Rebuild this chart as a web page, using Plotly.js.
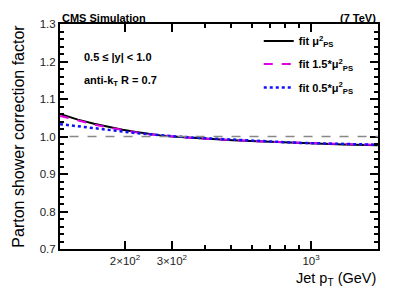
<!DOCTYPE html>
<html><head><meta charset="utf-8">
<script src="https://cdn.plot.ly/plotly-3.0.1.min.js"></script>
<style>body{margin:0;padding:0;background:#fff}#c{width:399px;height:294px}</style>
</head><body><div id="c"></div>
<script>
const pt = [114, 133, 153, 174, 196, 220, 245, 272, 300, 362, 430, 507, 592, 686, 790, 905, 1032, 1172, 1327, 1497, 1684, 1784];
const fitNominal = [1.060, 1.045, 1.034, 1.025, 1.018, 1.012, 1.007, 1.003, 1.000, 0.996, 0.993, 0.990, 0.988, 0.986, 0.984, 0.982, 0.981, 0.980, 0.979, 0.978, 0.977, 0.977];
const fitUp = [1.055, 1.042, 1.032, 1.024, 1.017, 1.011, 1.006, 1.003, 1.000, 0.996, 0.993, 0.990, 0.988, 0.986, 0.985, 0.983, 0.982, 0.981, 0.980, 0.979, 0.978, 0.978];
const fitDown = [1.033, 1.027, 1.022, 1.017, 1.013, 1.009, 1.006, 1.003, 1.001, 0.997, 0.994, 0.991, 0.989, 0.987, 0.985, 0.983, 0.982, 0.981, 0.980, 0.979, 0.978, 0.978];
const names = ["fit μ<sup>2</sup><sub>PS</sub>", "fit 1.5*μ<sup>2</sup><sub>PS</sub>", "fit 0.5*μ<sup>2</sup><sub>PS</sub>"];
const xTickVals = [200, 300, 1000];
const xTickText = ["2×10<sup>2</sup>", "3×10<sup>2</sup>", "10<sup>3</sup>"];
const xMinorVals = [400, 500, 600, 700, 800, 900];
const xRange = [114, 1784];
const yRange = [0.7, 1.3];

const F = "Liberation Sans, Arial, sans-serif";
const traces = [
  {x: pt, y: fitNominal, name: names[0], legend: "legend", mode: "lines", line: {color: "#000000", width: 2}},
  {x: pt, y: fitUp, name: names[1], legend: "legend2", mode: "lines", line: {color: "#e000e0", width: 2, dash: "dash"}},
  {x: pt, y: fitDown, name: names[2], legend: "legend3", mode: "lines", line: {color: "#1010ff", width: 2.5, dash: "dot"}}
];
const axBase = {showline: true, linecolor: "#000", linewidth: 2, ticks: "inside", tickcolor: "#000",
  mirror: "allticks", showgrid: false, zeroline: false, tickfont: {family: F, size: 11.5, color: "#222"}};
function leg(y) {
  return {x: 0.625, y: y, xanchor: "left", yanchor: "middle", bgcolor: "rgba(0,0,0,0)",
    font: {family: F, size: 11, color: "#000", weight: "bold"}, itemwidth: 30};
}
const layout = {
  width: 399, height: 294, margin: {l: 60, r: 21, t: 24, b: 45},
  paper_bgcolor: "#fff", plot_bgcolor: "#fff", showlegend: true,
  xaxis: Object.assign({}, axBase, {type: "log", range: [Math.log10(xRange[0]), Math.log10(xRange[1])],
    tickmode: "array", tickvals: xTickVals, ticktext: xTickText, ticklen: 8, tickwidth: 2,
    minor: {tickmode: "array", tickvals: xMinorVals, ticks: "inside", ticklen: 4, tickwidth: 2, tickcolor: "#000"}}),
  yaxis: Object.assign({}, axBase, {range: yRange, dtick: 0.1, tick0: 0.7, tickformat: ".1f", ticklen: 8, tickwidth: 2,
    minor: {dtick: 0.02, ticks: "inside", ticklen: 4, tickwidth: 2, tickcolor: "#000"},
    title: {text: "Parton shower correction factor", font: {family: F, size: 16, color: "#000"}, standoff: 11}}),
  legend: leg(0.925),
  legend2: leg(0.822),
  legend3: leg(0.718),
  shapes: [{type: "line", xref: "paper", yref: "y", x0: 0.03, x1: 1, y0: 1.0, y1: 1.0,
    line: {color: "#888", width: 1.5, dash: "dash"}}],
  annotations: [
    {text: "<b>CMS Simulation</b>", xref: "paper", yref: "paper", x: 0, y: 1, xanchor: "left", yanchor: "bottom", showarrow: false, font: {family: F, size: 11, color: "#000"}, yshift: -2},
    {text: "<b>(7 TeV)</b>", xref: "paper", yref: "paper", x: 1, y: 1, xanchor: "right", yanchor: "bottom", showarrow: false, font: {family: F, size: 11, color: "#000"}, yshift: -2},
    {text: "<b>0.5 ≤ |y| < 1.0</b>", xref: "paper", yref: "paper", x: 0.07, y: 0.855, xanchor: "left", yanchor: "middle", showarrow: false, font: {family: F, size: 11, color: "#000"}},
    {text: "<b>anti-k<sub>T</sub> R = 0.7</b>", xref: "paper", yref: "paper", x: 0.07, y: 0.745, xanchor: "left", yanchor: "middle", showarrow: false, font: {family: F, size: 11, color: "#000"}},
    {text: "Jet p<sub>T</sub> (GeV)", xref: "paper", yref: "paper", x: 1, y: 0, xanchor: "right", yanchor: "top", yshift: -19, showarrow: false, font: {family: F, size: 14.5, color: "#000"}}
  ]
};
Plotly.newPlot("c", traces, layout, {staticPlot: true, displayModeBar: false});
</script></body></html>
